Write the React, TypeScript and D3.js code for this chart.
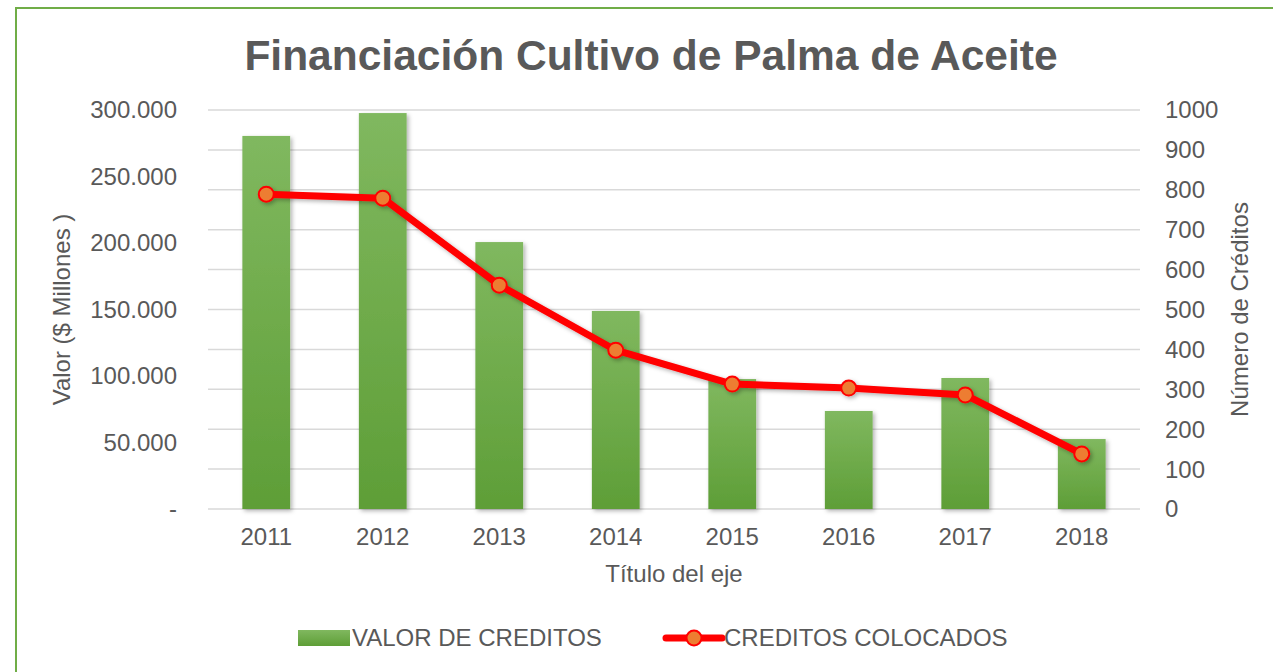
import React from "react";
import * as d3 from "d3";

const years = ["2011", "2012", "2013", "2014", "2015", "2016", "2017", "2018"];
const valorCreditos = [280500, 297700, 200700, 148900, 97700, 73700, 98500, 52600];
const creditosColocados = [789, 779, 561, 398, 313, 303, 286, 138];
const leftTicks = [0, 50000, 100000, 150000, 200000, 250000, 300000];
const rightTicks = [0, 100, 200, 300, 400, 500, 600, 700, 800, 900, 1000];

const W = 1273;
const H = 672;
const margin = { top: 110, right: 133, bottom: 163, left: 208 };
const FONT = "'Liberation Sans', Arial, sans-serif";
const TEXT = "#595959";
const FS = 24;

const fmtLeft = (v: number) =>
  v === 0 ? "-" : d3.format(",")(v).replace(/,/g, ".");

export default function App() {
  const innerW = W - margin.left - margin.right;
  const innerH = H - margin.top - margin.bottom;

  const x = d3.scaleBand().domain(years).range([0, innerW]).paddingInner(0.59).paddingOuter(0.295);
  const yLeft = d3.scaleLinear().domain([0, 300000]).range([innerH, 0]);
  const yRight = d3.scaleLinear().domain([0, 1000]).range([innerH, 0]);
  const cx = (d: string) => (x(d) ?? 0) + x.bandwidth() / 2;

  const line = d3
    .line<number>()
    .x((_, i) => cx(years[i]))
    .y((d) => yRight(d));

  return (
    <svg
      width={W}
      height={H}
      style={{ position: "absolute", left: 0, top: 0, background: "#fff" }}
      fontFamily={FONT}
    >
      <defs>
        <linearGradient id="barGrad" x1="0" y1="0" x2="0" y2="1">
          <stop offset="0%" stopColor="#80b85f" />
          <stop offset="100%" stopColor="#5e9e37" />
        </linearGradient>
        <filter id="shadow" x="-20%" y="-20%" width="140%" height="140%">
          <feDropShadow dx="2" dy="2" stdDeviation="2" floodColor="#000" floodOpacity="0.3" />
        </filter>
      </defs>

      <rect x={16} y={8} width={W + 10} height={H + 10} fill="none" stroke="#70ad47" strokeWidth={2} />

      <text
        x={651}
        y={70}
        textAnchor="middle"
        fontSize={42.5}
        fontWeight="bold"
        fill={TEXT}
      >
        Financiación Cultivo de Palma de Aceite
      </text>

      <g transform={`translate(${margin.left},${margin.top})`}>
        {rightTicks.map((t) => (
          <line
            key={t}
            x1={0}
            x2={innerW}
            y1={yRight(t)}
            y2={yRight(t)}
            stroke="#d9d9d9"
            strokeWidth={1.5}
          />
        ))}

        {years.map((yr, i) => (
          <rect
            key={yr}
            x={x(yr)}
            y={yLeft(valorCreditos[i])}
            width={x.bandwidth()}
            height={innerH - yLeft(valorCreditos[i])}
            fill="url(#barGrad)"
            filter="url(#shadow)"
          />
        ))}

        <g filter="url(#shadow)">
          <path
            d={line(creditosColocados) ?? ""}
            fill="none"
            stroke="#ff0000"
            strokeWidth={7}
            strokeLinejoin="round"
            strokeLinecap="round"
          />
          {creditosColocados.map((v, i) => (
            <circle
              key={i}
              cx={cx(years[i])}
              cy={yRight(v)}
              r={7.5}
              fill="#ed7d31"
              stroke="#ff0000"
              strokeWidth={2}
            />
          ))}
        </g>

        {leftTicks.map((t) => (
          <text
            key={t}
            x={-31}
            y={yLeft(t)}
            dy="0.35em"
            textAnchor="end"
            fontSize={FS}
            fill={TEXT}
          >
            {fmtLeft(t)}
          </text>
        ))}

        {rightTicks.map((t) => (
          <text
            key={t}
            x={innerW + 25}
            y={yRight(t)}
            dy="0.35em"
            textAnchor="start"
            fontSize={FS}
            fill={TEXT}
          >
            {t}
          </text>
        ))}

        {years.map((yr) => (
          <text
            key={yr}
            x={cx(yr)}
            y={innerH + 28}
            dy="0.35em"
            textAnchor="middle"
            fontSize={FS}
            fill={TEXT}
          >
            {yr}
          </text>
        ))}

        <text
          x={innerW / 2}
          y={innerH + 65}
          dy="0.35em"
          textAnchor="middle"
          fontSize={FS}
          fill={TEXT}
        >
          Título del eje
        </text>
      </g>

      <text
        transform={`translate(62,${margin.top + innerH / 2}) rotate(-90)`}
        dy="0.35em"
        textAnchor="middle"
        fontSize={FS}
        fill={TEXT}
      >
        Valor ($ Millones )
      </text>
      <text
        transform={`translate(1240,${margin.top + innerH / 2}) rotate(-90)`}
        dy="0.35em"
        textAnchor="middle"
        fontSize={FS}
        fill={TEXT}
      >
        Número de Créditos
      </text>

      <g transform="translate(0,638)">
        <rect x={298} y={-8} width={52} height={16} fill="url(#barGrad)" />
        <text x={352} y={0} dy="0.35em" fontSize={FS} fill={TEXT}>
          VALOR DE CREDITOS
        </text>
        <line x1={666} x2={722} y1={0} y2={0} stroke="#ff0000" strokeWidth={7} strokeLinecap="round" />
        <circle cx={694} cy={0} r={7.5} fill="#ed7d31" stroke="#ff0000" strokeWidth={2} />
        <text x={724} y={0} dy="0.35em" fontSize={FS} fill={TEXT}>
          CREDITOS COLOCADOS
        </text>
      </g>
    </svg>
  );
}
